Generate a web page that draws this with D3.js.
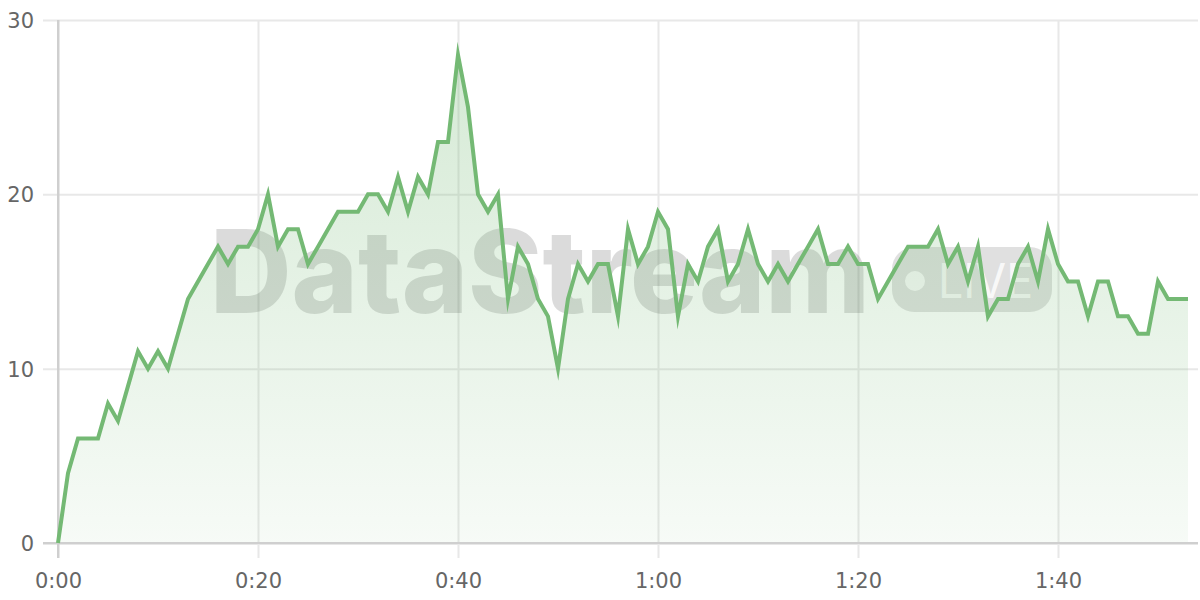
<!DOCTYPE html>
<html>
<head>
<meta charset="utf-8">
<script src="https://cdn.jsdelivr.net/npm/d3@7"></script>
<style>
  html, body { margin: 0; padding: 0; background: #ffffff; }
  svg { display: block; }
</style>
</head>
<body>
<svg id="chart" width="1200" height="600"></svg>
<script>
// ---- data (seconds since start, value per second) ----
const values = [
  0, 4, 6, 6, 6, 8, 7, 9, 11, 10,
  11, 10, 12, 14, 15, 16, 17, 16, 17, 17,
  18, 20, 17, 18, 18, 16, 17, 18, 19, 19,
  19, 20, 20, 19, 21, 19, 21, 20, 23, 23,
  28, 25, 20, 19, 20, 14, 17, 16, 14, 13,
  10, 14, 16, 15, 16, 16, 13, 18, 16, 17,
  19, 18, 13, 16, 15, 17, 18, 15, 16, 18,
  16, 15, 16, 15, 16, 17, 18, 16, 16, 17,
  16, 16, 14, 15, 16, 17, 17, 17, 18, 16,
  17, 15, 17, 13, 14, 14, 16, 17, 15, 18,
  16, 15, 15, 13, 15, 15, 13, 13, 12, 12,
  15, 14, 14, 14
];
const seconds = values.map((v, i) => i);
const xTicks = [0, 20, 40, 60, 80, 100];
const xTickLabels = ["0:00", "0:20", "0:40", "1:00", "1:20", "1:40"];
const yTicks = [0, 10, 20, 30];
const yTickLabels = ["0", "10", "20", "30"];
const watermarkText = "DataStream";
const liveText = "LIVE";

(function () {
// ---- layout ----
const pLeft = 58, pRight = 1198, pTop = 20, pBottom = 543, tickLen = 15;
const lineColor = "#74b974";

const svg = d3.select("#chart");
const x = d3.scaleLinear().domain([0, 114]).range([pLeft, pRight]);
const y = d3.scaleLinear().domain([0, 30]).range([pBottom, pTop]);

// gradient for area
const defs = svg.append("defs");
const grad = defs.append("linearGradient")
  .attr("id", "fillGrad").attr("gradientUnits", "userSpaceOnUse")
  .attr("x1", 0).attr("x2", 0).attr("y1", y(28)).attr("y2", pBottom);
grad.append("stop").attr("offset", "0%").attr("stop-color", lineColor).attr("stop-opacity", 0.30);
grad.append("stop").attr("offset", "100%").attr("stop-color", lineColor).attr("stop-opacity", 0.06);

// horizontal grid (y axis)
const yAxis = d3.axisLeft(y).tickValues(yTicks)
  .tickFormat((d, i) => yTickLabels[i])
  .tickSize(-(pRight - pLeft)).tickPadding(0);
const gy = svg.append("g").attr("transform", `translate(${pLeft},0)`).call(yAxis);
gy.select(".domain").remove();
gy.selectAll(".tick line")
  .attr("x1", -tickLen)
  .attr("stroke", d => d === 0 ? "#cfcfcf" : "#e8e8e8")
  .attr("stroke-width", 2);
gy.selectAll(".tick text")
  .attr("x", -24)
  .attr("dy", "0.36em")
  .attr("fill", "#666")
  .style("font-family", "DejaVu Sans, sans-serif")
  .style("font-size", "21px")
  .attr("text-anchor", "end");

// vertical grid (x axis)
const xAxis = d3.axisBottom(x).tickValues(xTicks)
  .tickFormat((d, i) => xTickLabels[i])
  .tickSize(0).tickPadding(0);
const gx = svg.append("g").attr("transform", `translate(0,${pBottom})`).call(xAxis);
gx.select(".domain").remove();
gx.selectAll(".tick line")
  .attr("y1", -(pBottom - pTop))
  .attr("y2", tickLen)
  .attr("stroke", d => d === 0 ? "#cfcfcf" : "#e8e8e8")
  .attr("stroke-width", 2);
gx.selectAll(".tick text")
  .attr("y", 37)
  .attr("dy", "0.36em")
  .attr("fill", "#666")
  .style("font-family", "DejaVu Sans, sans-serif")
  .style("font-size", "21px");

// watermark (behind the fill)
const wm = svg.append("g").attr("pointer-events", "none");
wm.append("text")
  .attr("x", 210).attr("y", 313)
  .attr("textLength", 660).attr("lengthAdjust", "spacingAndGlyphs")
  .style("font-family", "Inter, sans-serif")
  .style("font-weight", 800)
  .style("font-size", "115px")
  .attr("fill", "rgba(0,0,0,0.14)")
  .text(watermarkText);
wm.append("rect")
  .attr("x", 892).attr("y", 247).attr("width", 160).attr("height", 65)
  .attr("rx", 22).attr("ry", 22)
  .attr("fill", "rgba(0,0,0,0.12)");
wm.append("circle").attr("cx", 915).attr("cy", 281).attr("r", 10)
  .attr("fill", "rgba(255,255,255,0.8)");
wm.append("text")
  .attr("x", 938).attr("y", 298)
  .attr("textLength", 95).attr("lengthAdjust", "spacingAndGlyphs")
  .style("font-family", "Inter, sans-serif")
  .style("font-weight", 400)
  .style("font-size", "48px")
  .attr("fill", "rgba(255,255,255,0.8)")
  .text(liveText);

// area
const data = seconds.map((s, i) => ({ s, v: values[i] }));
const area = d3.area().x(d => x(d.s)).y0(y(0)).y1(d => y(d.v));
svg.append("path").datum(data).attr("d", area).attr("fill", "url(#fillGrad)");

// axis lines on top of fill
svg.append("line").attr("x1", pLeft - tickLen).attr("x2", pRight).attr("y1", y(0)).attr("y2", y(0))
  .attr("stroke", "#cfcfcf").attr("stroke-width", 2);
svg.append("line").attr("x1", x(0)).attr("x2", x(0)).attr("y1", pTop).attr("y2", pBottom + tickLen)
  .attr("stroke", "#cfcfcf").attr("stroke-width", 2);

// line
const line = d3.line().x(d => x(d.s)).y(d => y(d.v));
svg.append("path").datum(data).attr("d", line)
  .attr("fill", "none")
  .attr("stroke", lineColor)
  .attr("stroke-width", 4)
  .attr("stroke-linejoin", "miter")
  .attr("stroke-miterlimit", 10);
})();
</script>
</body>
</html>
